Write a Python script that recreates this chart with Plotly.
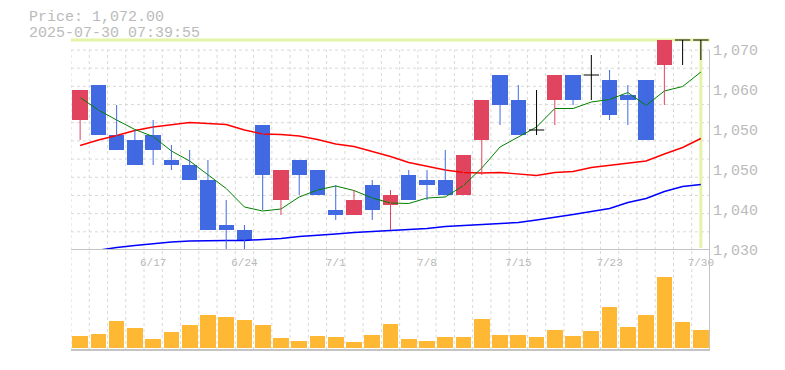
import numpy as np
import plotly.graph_objects as go

# ---------------- data ----------------
dates = ["6/11", "6/12", "6/13", "6/16", "6/17", "6/18", "6/19", "6/20", "6/23", "6/24",
         "6/25", "6/26", "6/27", "6/30", "7/1", "7/2", "7/3", "7/4", "7/7", "7/8",
         "7/9", "7/10", "7/11", "7/14", "7/15", "7/16", "7/17", "7/18", "7/22", "7/23",
         "7/24", "7/25", "7/28", "7/29", "7/30"]
opens = [1056, 1063, 1053, 1052, 1053, 1048, 1047, 1044, 1035, 1034,
         1055, 1040, 1048, 1046, 1038, 1037, 1043, 1039, 1045, 1044,
         1044, 1041, 1052, 1065, 1060, 1054, 1060, 1065, 1065, 1064,
         1061, 1064, 1067, 1072, 1072]
highs = [1062, 1063, 1059, 1054, 1056, 1051, 1050, 1048, 1040, 1035,
         1055, 1046, 1048, 1046, 1043, 1042, 1044, 1042, 1046, 1046,
         1050, 1049, 1060, 1065, 1063, 1062, 1065, 1065, 1069, 1066,
         1063, 1064, 1072, 1072, 1072]
lows = [1052, 1053, 1050, 1047, 1047, 1046, 1044, 1034, 1030, 1030,
        1038, 1037, 1041, 1041, 1036, 1037, 1036, 1034, 1040, 1040,
        1041, 1041, 1045, 1055, 1053, 1053, 1055, 1059, 1060, 1056,
        1055, 1052, 1059, 1067, 1068]
closes = [1062, 1053, 1050, 1047, 1050, 1047, 1044, 1034, 1034, 1032,
          1045, 1046, 1045, 1041, 1037, 1040, 1038, 1041, 1040, 1043,
          1041, 1049, 1060, 1059, 1053, 1054, 1065, 1060, 1065, 1057,
          1060, 1052, 1072, 1072, 1072]
ma5 = [1060.5, 1058.0, 1056.0, 1054.1, 1052.7, 1049.8, 1047.8, 1045.0, 1042.3, 1038.6,
       1037.8, 1038.2, 1040.6, 1042.0, 1042.8, 1041.9, 1040.4, 1039.4, 1039.3, 1040.4,
       1040.6, 1042.9, 1046.4, 1050.6, 1052.6, 1054.6, 1058.3, 1058.3, 1059.6, 1060.1,
       1061.5, 1058.9, 1061.8, 1062.7, 1065.6]
ma25 = [1050.9, 1052.0, 1052.9, 1053.9, 1054.6, 1055.1, 1055.5, 1055.3, 1055.1, 1054.0,
        1053.2, 1053.1, 1052.8, 1052.1, 1051.2, 1050.7, 1049.7, 1048.7, 1047.5, 1046.7,
        1046.0, 1045.5, 1045.4, 1045.5, 1045.2, 1044.9, 1045.5, 1045.7, 1046.5, 1046.9,
        1047.3, 1047.8, 1049.2, 1050.5, 1052.3]
ma75 = [1029.4, 1030.0, 1030.5, 1030.9, 1031.3, 1031.6, 1031.8, 1031.9, 1031.9, 1031.9,
        1032.1, 1032.3, 1032.7, 1032.9, 1033.2, 1033.5, 1033.7, 1033.8, 1034.1, 1034.3,
        1034.7, 1034.9, 1035.0, 1035.3, 1035.5, 1036.0, 1036.5, 1037.1, 1037.7, 1038.3,
        1039.5, 1040.3, 1041.7, 1042.7, 1043.1]
volumes = [11700, 13700, 26700, 19700, 8700, 15700, 22700, 32700, 30700, 27700,
           22700, 9700, 6700, 11700, 10700, 5700, 12700, 23700, 8700, 6700,
           10700, 10700, 28700, 12700, 12700, 10700, 17700, 11700, 16700, 40700,
           20700, 32700, 70700, 25700, 17700]
label_dates = ["6/17", "6/24", "7/1", "7/8", "7/15", "7/23", "7/30"]
price_ticks = [1030, 1038, 1046, 1054, 1062, 1070]
price_tick_text = ["1,030", "1,040", "1,050", "1,050", "1,060", "1,070"]
last_price = 1072.00
timestamp = "2025-07-30 07:39:55"

# ---------------- styling ----------------
RED = "#e0445e"
BLUE = "#4169e1"
GRID = "#d9d9d9"
BORDER = "#c4c4c4"
TEXT = "#bbbbbb"
HILITE = "#e4f4a6"
VOLCOL = "#ffb833"
FONT = "Liberation Mono"
BODY_W = 0.84

x = np.arange(len(dates))
o = np.array(opens, float)
h = np.array(highs, float)
l = np.array(lows, float)
c = np.array(closes, float)
up = c > o
down = c < o
flat = c == o

Y_LO, Y_HI = 1030, 1070
Y_TOP = 1072.4
V_LO, V_HI = -2300, 97700

fig = go.Figure()

# moving averages (behind candles)
for vals, col, w in [(ma75, "#0000ff", 1.5), (ma25, "#ff0000", 1.4), (ma5, "#008000", 1)]:
    fig.add_trace(go.Scatter(x=x, y=vals, mode="lines", line=dict(color=col, width=w),
                             xaxis="x", yaxis="y", hoverinfo="skip"))


def wicks(mask):
    xs, ys = [], []
    for i in np.where(mask)[0]:
        xs += [x[i], x[i], None]
        ys += [l[i], h[i], None]
    return xs, ys


for mask, col in [(up, RED), (down, BLUE), (flat, "#000000")]:
    wx, wy = wicks(mask)
    fig.add_trace(go.Scatter(x=wx, y=wy, mode="lines", line=dict(color=col, width=1),
                             xaxis="x", yaxis="y", hoverinfo="skip"))

for mask, col in [(up, RED), (down, BLUE)]:
    fig.add_trace(go.Bar(x=x[mask], y=np.abs(c - o)[mask], base=np.minimum(o, c)[mask],
                         width=BODY_W, marker=dict(color=col, line=dict(width=0)),
                         xaxis="x", yaxis="y"))

# doji bars (open == close) as horizontal strokes
dx, dy = [], []
for i in np.where(flat)[0]:
    dx += [x[i] - BODY_W / 2, x[i] + BODY_W / 2, None]
    dy += [c[i], c[i], None]
fig.add_trace(go.Scatter(x=dx, y=dy, mode="lines", line=dict(color="#000000", width=1),
                         xaxis="x", yaxis="y", hoverinfo="skip"))

# volume
fig.add_trace(go.Bar(x=x, y=volumes, width=0.86, marker=dict(color=VOLCOL, line=dict(width=0)),
                     xaxis="x2", yaxis="y2"))

shapes = []
n = len(dates)
# horizontal grid (price panel)
for k in range(1, 12):
    yv = Y_LO + k * (Y_HI - Y_LO) / 11
    shapes.append(dict(type="line", xref="x", yref="y", x0=-0.5, x1=n - 0.5, y0=yv, y1=yv,
                       line=dict(color=GRID, width=1, dash="3px,3px"), layer="below"))
# vertical grid
for k in range(n):
    xv = k - 0.5
    shapes.append(dict(type="line", xref="x", yref="y", x0=xv, x1=xv, y0=Y_LO, y1=Y_HI,
                       line=dict(color=GRID, width=1, dash="3px,3px"), layer="below"))
    shapes.append(dict(type="line", xref="x2", yref="y2 domain", x0=xv, x1=xv, y0=0, y1=1,
                       line=dict(color=GRID, width=1, dash="3px,3px"), layer="below"))
# current price highlight
shapes.append(dict(type="line", xref="x", yref="y", x0=-0.5, x1=n - 0.5, y0=last_price, y1=last_price,
                   line=dict(color=HILITE, width=3), layer="below"))
shapes.append(dict(type="line", xref="x", yref="y", x0=n - 1, x1=n - 1, y0=Y_LO + 0.4, y1=last_price,
                   line=dict(color=HILITE, width=3), layer="below"))
# borders
shapes.append(dict(type="line", xref="x", yref="y", x0=-0.5, x1=n - 0.5, y0=Y_LO, y1=Y_LO,
                   line=dict(color=BORDER, width=2)))
shapes.append(dict(type="line", xref="x2", yref="y2 domain", x0=-0.5, x1=n - 0.5, y0=0, y1=0,
                   line=dict(color=BORDER, width=2)))
shapes.append(dict(type="line", xref="x", yref="y", x0=n - 0.5, x1=n - 0.5, y0=Y_LO, y1=Y_HI,
                   line=dict(color=BORDER, width=2)))
shapes.append(dict(type="line", xref="x2", yref="y2 domain", x0=n - 0.5, x1=n - 0.5, y0=0, y1=1,
                   line=dict(color=BORDER, width=2)))

PLOT_H = 312.0
PRICE_BOTTOM = 100 / PLOT_H
# the page body adds an 8px offset; margins compensate so the plot lands where the reference has it
ML, MT = 63, 30
PLOT_TOP_SCREEN = 38.0

fig.update_layout(
    width=785, height=370,
    margin=dict(l=ML, r=785 - ML - 639, t=MT, b=370 - MT - int(PLOT_H)),
    paper_bgcolor="white", plot_bgcolor="white",
    showlegend=False, barmode="overlay", bargap=0,
    font=dict(family=FONT, color=TEXT),
    shapes=shapes,
    xaxis=dict(domain=[0, 1], range=[-0.5, n - 0.5], anchor="y",
               tickvals=[dates.index(d) for d in label_dates], ticktext=label_dates,
               tickfont=dict(family=FONT, size=11, color="#b8b8b8"), ticklabelstandoff=4,
               showgrid=False, zeroline=False, showline=False, ticks=""),
    xaxis2=dict(domain=[0, 1], range=[-0.5, n - 0.5], anchor="y2", matches="x",
                showticklabels=False, showgrid=False, zeroline=False, showline=False, ticks=""),
    yaxis=dict(domain=[PRICE_BOTTOM, 1], range=[Y_LO, Y_TOP], anchor="x", side="right",
               tickvals=price_ticks, ticktext=price_tick_text,
               tickfont=dict(family=FONT, size=15, color=TEXT), ticklabelstandoff=2,
               showgrid=False, zeroline=False, showline=False, ticks=""),
    yaxis2=dict(domain=[0, PRICE_BOTTOM], range=[V_LO, V_HI], anchor="x2",
                showticklabels=False, showgrid=False, zeroline=False, showline=False, ticks=""),
    annotations=[
        dict(text=f"Price: {last_price:,.2f}", xref="paper", yref="paper",
             x=-44 / 639, y=1 + (PLOT_TOP_SCREEN - 17.7) / PLOT_H, xanchor="left", yanchor="middle",
             showarrow=False, font=dict(family=FONT, size=15, color=TEXT)),
        dict(text=timestamp, xref="paper", yref="paper",
             x=-44 / 639, y=1 + (PLOT_TOP_SCREEN - 33) / PLOT_H, xanchor="left", yanchor="middle",
             showarrow=False, font=dict(family=FONT, size=15, color=TEXT)),
    ],
)

fig.write_html("out.html")
